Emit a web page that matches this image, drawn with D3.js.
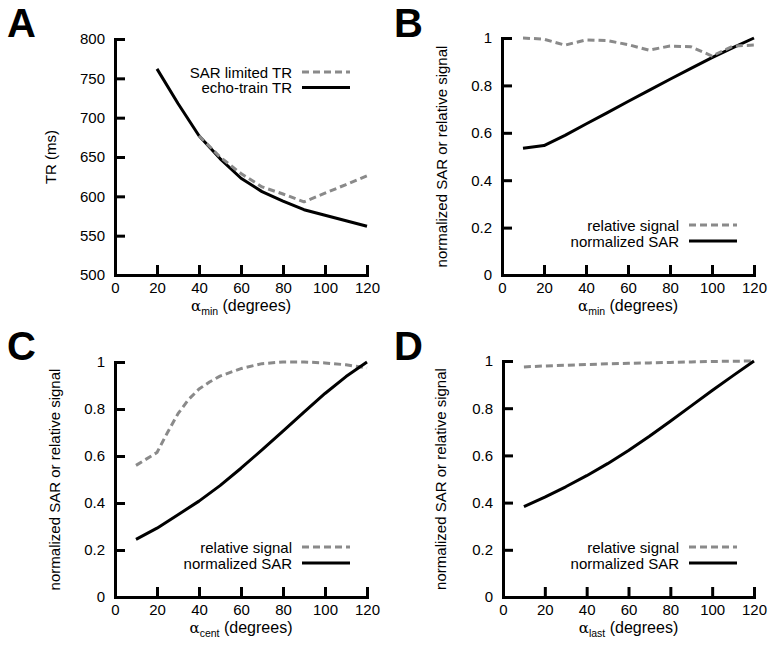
<!DOCTYPE html>
<html>
<head>
<meta charset="utf-8">
<script src="https://cdn.jsdelivr.net/npm/d3@7"></script>
<style>
  html, body { margin: 0; padding: 0; background: #fff; }
  svg text { font-family: "Liberation Sans", Arial, Helvetica, sans-serif; fill: #000; }
</style>
</head>
<body>
<svg id="chart" width="775" height="650"></svg>
<script>
// ---------- data ----------
const xTicks = [0, 20, 40, 60, 80, 100, 120];
const trTicks = [500, 550, 600, 650, 700, 750, 800];
const normTicks = [0, 0.2, 0.4, 0.6, 0.8, 1];

// Panel A
const degEcho = [20, 30, 40, 50, 60, 70, 80, 90, 100, 110, 120];
const trEcho  = [762, 718, 677, 648, 623, 606, 594, 583, 576, 569, 562];
const degSarLim = [40, 50, 60, 70, 80, 90, 100, 110, 120];
const trSarLim  = [677, 650, 629, 612, 603, 593, 604, 615, 626];

// Panel B
const degB = [10, 20, 30, 40, 50, 60, 70, 80, 90, 100, 110, 120];
const sarB = [0.535, 0.546, 0.589, 0.637, 0.684, 0.732, 0.779, 0.826, 0.872, 0.917, 0.959, 1.0];
const sigB = [1.0, 0.995, 0.970, 0.992, 0.989, 0.972, 0.949, 0.966, 0.963, 0.924, 0.966, 0.970];

// Panel C
const degC = [10, 20, 30, 40, 50, 60, 70, 80, 90, 100, 110, 120];
const sarC = [0.245, 0.293, 0.350, 0.408, 0.474, 0.548, 0.626, 0.706, 0.787, 0.866, 0.938, 1.0];
const degCsig = [10, 20, 25, 30, 35, 40, 45, 50, 60, 70, 80, 90, 100, 110, 120];
const sigC    = [0.56, 0.615, 0.70, 0.78, 0.84, 0.885, 0.915, 0.94, 0.972, 0.993, 1.0, 1.0, 0.996, 0.988, 0.975];

// Panel D
const degD = [10, 20, 30, 40, 50, 60, 70, 80, 90, 100, 110, 120];
const sarD = [0.383, 0.423, 0.467, 0.514, 0.565, 0.621, 0.681, 0.745, 0.810, 0.875, 0.938, 1.0];
const sigD = [0.975, 0.979, 0.982, 0.985, 0.988, 0.990, 0.992, 0.994, 0.996, 0.998, 0.999, 1.0];

const panelLetters = ["A", "B", "C", "D"];
const xSubs = ["min", "min", "cent", "last"];

// ---------- layout ----------
const svg = d3.select("#chart");
const GRAY = "#8a8a8a";

const panels = [
  { letter: panelLetters[0], left: 115, right: 367, top: 39, bottom: 275, yDomain: [500, 800], yTicks: trTicks,
    yLabel: "TR (ms)", yLabelX: 56, sub: xSubs[0], legendTop: true,
    series: [
      { name: "echo-train TR", x: degEcho, y: trEcho, dashed: false },
      { name: "SAR limited TR", x: degSarLim, y: trSarLim, dashed: true }
    ],
    legend: [ { name: "SAR limited TR", dashed: true }, { name: "echo-train TR", dashed: false } ] },
  { letter: panelLetters[1], left: 502, right: 754, top: 38, bottom: 275, yDomain: [0, 1], yTicks: normTicks,
    yLabel: "normalized SAR or relative signal", yLabelX: 447, sub: xSubs[1], legendTop: false,
    series: [
      { name: "normalized SAR", x: degB, y: sarB, dashed: false },
      { name: "relative signal", x: degB, y: sigB, dashed: true }
    ],
    legend: [ { name: "relative signal", dashed: true }, { name: "normalized SAR", dashed: false } ] },
  { letter: panelLetters[2], left: 115, right: 367, top: 362, bottom: 597, yDomain: [0, 1], yTicks: normTicks,
    yLabel: "normalized SAR or relative signal", yLabelX: 60, sub: xSubs[2], legendTop: false,
    series: [
      { name: "relative signal", x: degCsig, y: sigC, dashed: true },
      { name: "normalized SAR", x: degC, y: sarC, dashed: false }
    ],
    legend: [ { name: "relative signal", dashed: true }, { name: "normalized SAR", dashed: false } ] },
  { letter: panelLetters[3], left: 503, right: 754, top: 361, bottom: 597, yDomain: [0, 1], yTicks: normTicks,
    yLabel: "normalized SAR or relative signal", yLabelX: 446, sub: xSubs[3], legendTop: false,
    series: [
      { name: "relative signal", x: degD, y: sigD, dashed: true },
      { name: "normalized SAR", x: degD, y: sarD, dashed: false }
    ],
    legend: [ { name: "relative signal", dashed: true }, { name: "normalized SAR", dashed: false } ] }
];

const letterPos = [[7, 37], [394, 37], [7, 360], [394, 360]];

panels.forEach((p, i) => {
  const g = svg.append("g");
  const x = d3.scaleLinear().domain([0, 120]).range([p.left, p.right]);
  const y = d3.scaleLinear().domain(p.yDomain).range([p.bottom, p.top]);

  // data lines
  const line = d3.line().x(d => x(d[0])).y(d => y(d[1]));
  p.series.forEach(s => {
    const pts = s.x.map((v, k) => [v, s.y[k]]);
    g.append("path")
      .attr("d", line(pts))
      .attr("fill", "none")
      .attr("stroke", s.dashed ? GRAY : "#000")
      .attr("stroke-width", 3)
      .attr("stroke-dasharray", s.dashed ? "7,4" : null)
      .attr("stroke-linejoin", "round");
  });

  // axes
  const xAxis = d3.axisBottom(x).tickValues(xTicks).tickSizeInner(-10).tickSizeOuter(0).tickPadding(7)
    .tickFormat(d3.format("d"));
  const yFmt = p.yDomain[1] === 1 ? (d => (d === 0 || d === 1) ? String(d) : d3.format(".1f")(d)) : d3.format("d");
  const yAxis = d3.axisLeft(y).tickValues(p.yTicks).tickSizeInner(-10).tickSizeOuter(0).tickPadding(10)
    .tickFormat(yFmt);

  const gx = g.append("g").attr("transform", `translate(0,${p.bottom})`).call(xAxis);
  const gy = g.append("g").attr("transform", `translate(${p.left},0)`).call(yAxis);
  [gx, gy].forEach(ax => {
    ax.select(".domain").attr("stroke", "#000").attr("stroke-width", 3).attr("stroke-linecap", "square");
    ax.selectAll(".tick line").attr("stroke", "#000").attr("stroke-width", 3);
    ax.selectAll(".tick text").attr("font-size", 15).attr("fill", "#000")
      .style("font-family", '"Liberation Sans", Arial, sans-serif');
  });

  // y label
  g.append("text")
    .attr("transform", `translate(${p.yLabelX},${(p.top + p.bottom) / 2}) rotate(-90)`)
    .attr("text-anchor", "middle")
    .attr("font-size", 15)
    .text(p.yLabel);

  // x label
  const xl = g.append("text")
    .attr("x", (p.left + p.right) / 2)
    .attr("y", p.bottom + 36)
    .attr("text-anchor", "middle")
    .attr("font-size", 16);
  xl.append("tspan").style("font-family", '"DejaVu Serif", "Liberation Serif", serif')
    .attr("font-size", 15).text("α");
  xl.append("tspan").attr("font-size", 10.5).attr("dy", 4).text(p.sub);
  xl.append("tspan").attr("dy", -4).text(" (degrees)");

  // legend
  const rowY = p.legendTop ? [p.top + 33, p.top + 48.5] : [p.bottom - 50, p.bottom - 34];
  p.legend.forEach((L, k) => {
    g.append("text")
      .attr("x", p.right - 75)
      .attr("y", rowY[k] + 5.5)
      .attr("text-anchor", "end")
      .attr("font-size", 15)
      .text(L.name);
    g.append("line")
      .attr("x1", p.right - 65).attr("x2", p.right - 17)
      .attr("y1", rowY[k]).attr("y2", rowY[k])
      .attr("stroke", L.dashed ? GRAY : "#000")
      .attr("stroke-width", 3)
      .attr("stroke-dasharray", L.dashed ? "7,4" : null);
  });

  // panel letter
  svg.append("text")
    .attr("x", letterPos[i][0]).attr("y", letterPos[i][1])
    .attr("font-size", 40).attr("font-weight", "bold")
    .text(p.letter);
});
</script>
</body>
</html>
